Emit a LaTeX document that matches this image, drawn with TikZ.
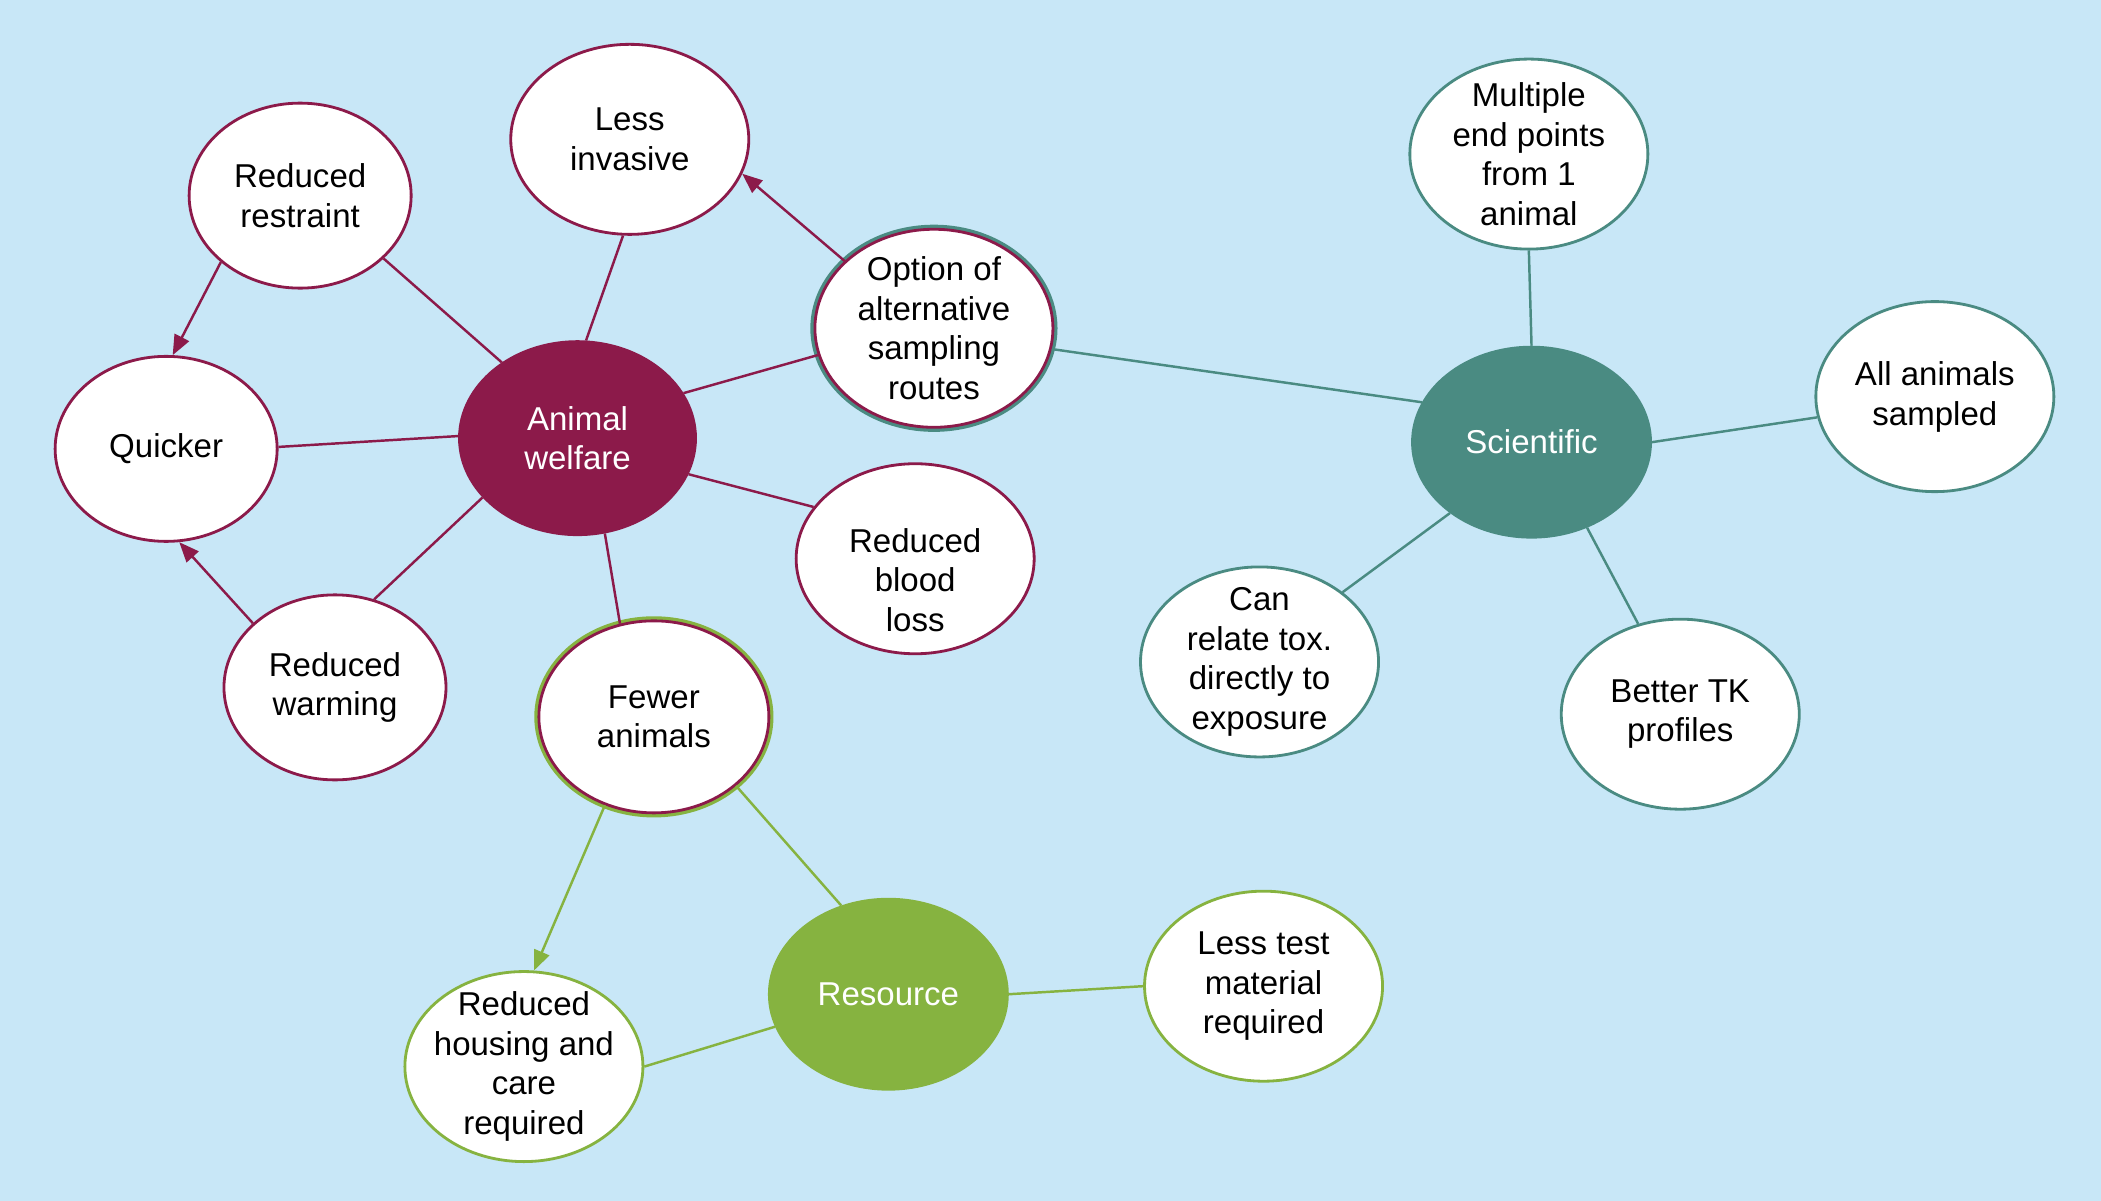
\documentclass[tikz,border=0pt]{standalone}
\usepackage{fontspec}
\setmainfont{Liberation Sans}
\usetikzlibrary{shapes.geometric,arrows.meta}
\definecolor{bgblue}{HTML}{C8E7F7}
\definecolor{welfarec}{HTML}{8C1A4A}
\definecolor{sciencec}{HTML}{4A8B82}
\definecolor{resourcec}{HTML}{86B340}
\begin{document}
\begin{tikzpicture}[x=0.0134cm,y=-0.0134cm,
  bubble/.style={ellipse,draw,fill=white,line width=0.8pt,inner sep=-6pt,
    minimum width=2.38cm,minimum height=1.9cm,align=center,
    font=\fontsize{9.4}{11.3}\selectfont},
  smallbubble/.style={minimum width=2.22cm,minimum height=1.85cm},
  hub/.style={bubble,text=white},
  ring/.style={preaction={draw=#1,line width=2.6pt}},
  bubbletext/.style={align=center,inner sep=0pt,font=\fontsize{9.4}{11.3}\selectfont},
  link/.style={line width=0.7pt},
  arr/.style={link,-{Triangle[length=2mm,width=1.6mm]}}]
\fill[bgblue] (0,0) rectangle (1568,896);
\useasboundingbox (0,0) rectangle (1568,896);

% animal welfare
\node[hub,fill=welfarec,draw=welfarec,minimum width=2.36cm,minimum height=1.93cm] (welfare) at (431,327) {Animal\\welfare};
\node[bubble,draw=welfarec] (lessinv) at (470,104) {Less\\invasive};
\node[bubble,smallbubble,draw=welfarec] (restraint) at (224,146) {Reduced\\restraint};
\node[bubble,smallbubble,draw=welfarec] (quicker) at (124,335) {Quicker};
\node[bubble,smallbubble,draw=welfarec] (warming) at (250,513) {Reduced\\warming};
\node[bubble,draw=welfarec,ring=sciencec,minimum height=1.98cm] (option) at (697,245) {Option of\\alternative\\sampling\\routes};
\node[bubble,draw=welfarec] (blood) at (683,417) {};
\node[bubbletext] (bloodtext) at (683,433) {Reduced\\blood\\loss};
\node[bubble,draw=welfarec,ring=resourcec,minimum width=2.3cm,minimum height=1.92cm] (fewer) at (488,535) {Fewer\\animals};

% resource
\node[hub,fill=resourcec,draw=resourcec] (resource) at (663,742) {Resource};
\node[bubble,draw=resourcec] (housing) at (391,796) {Reduced\\housing and\\care\\required};
\node[bubble,draw=resourcec] (testmat) at (943,736) {Less test\\material\\required};

% scientific
\node[hub,fill=sciencec,draw=sciencec] (scientific) at (1143,330) {Scientific};
\node[bubble,draw=sciencec] (endpoints) at (1141,115) {Multiple\\end points\\from 1\\animal};
\node[bubble,draw=sciencec] (allsampled) at (1444,296) {All animals\\sampled};
\node[bubble,draw=sciencec] (relate) at (940,494) {Can\\relate tox.\\directly to\\exposure};
\node[bubble,draw=sciencec] (tk) at (1254,533) {Better TK\\profiles};

\draw[link,welfarec] (welfare.85) -- (lessinv.266);
\draw[link,welfarec] (welfare.135) -- (restraint.323);
\draw[link,welfarec] (welfare.179) -- (quicker.1);
\draw[link,welfarec] (welfare.212) -- (warming.66);
\draw[link,welfarec] (welfare.23) -- (option.193);
\draw[link,welfarec] (welfare.342) -- (blood.153);
\draw[link,welfarec] (welfare.286) -- (fewer.110);
\draw[arr,welfarec] (restraint.220) -- (quicker.86);
\draw[arr,welfarec] (warming.142) -- (quicker.278);
\draw[arr,welfarec] (option.143) -- (lessinv.343);

\draw[link,sciencec] (option.350) -- (scientific.160);
\draw[link,sciencec] (scientific.90) -- (endpoints.270);
\draw[link,sciencec] (scientific.0) -- (allsampled.190);
\draw[link,sciencec] (scientific.221) -- (relate.40);
\draw[link,sciencec] (scientific.303) -- (tk.115);

\draw[link,resourcec] (fewer.320) -- (resource.118);
\draw[arr,resourcec] (fewer.241) -- (housing.84);
\draw[link,resourcec] (resource.196) -- (housing.0);
\draw[link,resourcec] (resource.0) -- (testmat.180);
\end{tikzpicture}
\end{document}
